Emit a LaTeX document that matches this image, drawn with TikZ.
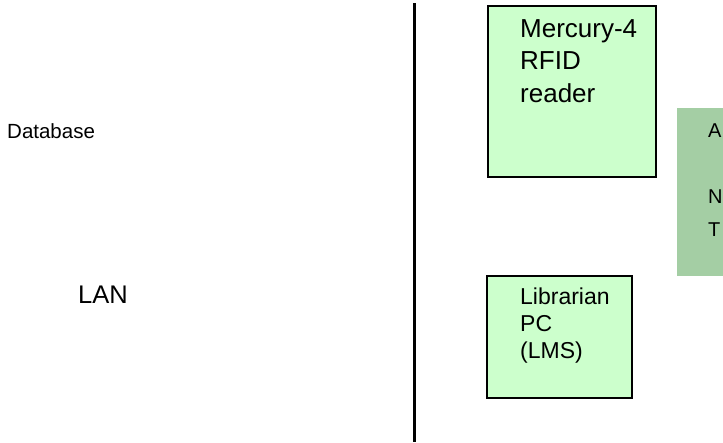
\documentclass[tikz,border=0pt]{standalone}
\usepackage{fontspec}
\setmainfont{Liberation Sans}
\definecolor{devgreen}{RGB}{204,255,204}
\definecolor{appgreen}{RGB}{164,206,164}

\begin{document}
\begin{tikzpicture}[x=1pt,y=-1pt,
		box/.style={draw, line width=2pt, fill=devgreen, anchor=north west, inner sep=0pt},
		txt/.style={anchor=base west, inner sep=0pt, align=left}]
		\useasboundingbox (0,0) rectangle (723,442);
		\clip (0,0) rectangle (723,442);

		\draw
		node[box, minimum width=168pt, minimum height=171pt] at (487,5) (rfid) {}
		node[box, minimum width=145pt, minimum height=122pt] at (486,275) (pc) {}
		node[fill=appgreen, anchor=north west, inner sep=0pt, minimum width=80pt, minimum height=168pt] at (677,108) (app) {}

		node[txt, font=\fontsize{26}{32.5}\selectfont] at (520,102) (rfidtxt) {Mercury-4\\RFID\\reader}
		node[txt, font=\fontsize{23}{27}\selectfont] at (520,358) (pctxt) {Librarian\\PC\\(LMS)}
		node[txt, font=\fontsize{20}{33}\selectfont] at (708,236) (apptxt) {A\\[33pt]N\\T}
		node[txt, font=\fontsize{20.5}{24}\selectfont] at (7,138) (db) {Database}
		node[txt, font=\fontsize{25.5}{30}\selectfont] at (78,303) (lan) {LAN};

		\coordinate (ltop) at (414,3);
		\coordinate (lbot) at (414,442);
		\draw[line width=3pt] (ltop) -- (lbot);
\end{tikzpicture}
\end{document}
